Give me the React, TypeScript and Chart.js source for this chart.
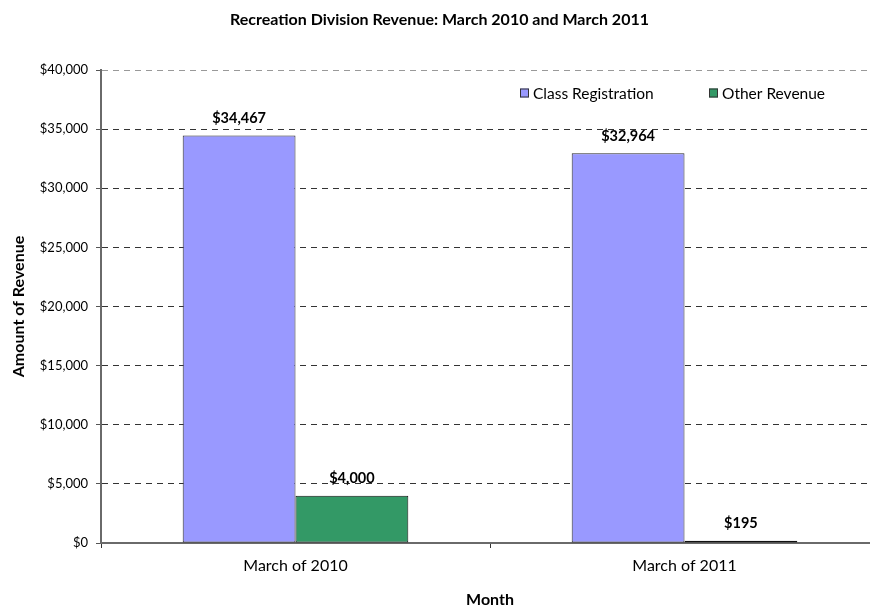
import React, { useEffect, useRef } from "react";
import { Chart, registerables } from "chart.js";

Chart.register(...registerables);

const categories = ["March of 2010", "March of 2011"];
const seriesNames = ["Class Registration", "Other Revenue"];
const classRegistration = [34467, 32964];
const otherRevenue = [4000, 195];
const yTicks = [0, 5000, 10000, 15000, 20000, 25000, 30000, 35000, 40000];

const FONT = "Lato, 'Open Sans', sans-serif";
const fmt = (v: number) => "$" + v.toLocaleString("en-US");

const labelPlugin = {
  id: "valueLabels",
  afterDatasetsDraw(chart: any) {
    const ctx = chart.ctx;
    ctx.save();
    ctx.font = `bold 14.5px ${FONT}`;
    ctx.fillStyle = "#000";
    ctx.textAlign = "center";
    ctx.textBaseline = "middle";
    chart.data.datasets.forEach((ds: any, di: number) => {
      const meta = chart.getDatasetMeta(di);
      meta.data.forEach((el: any, i: number) => {
        ctx.fillText(fmt(ds.data[i]), el.x, el.y - 17);
      });
    });
    ctx.restore();
  },
};

const legendPlugin = {
  id: "innerLegend",
  afterDraw(chart: any) {
    const ctx = chart.ctx;
    const { left } = chart.chartArea;
    const y = 93;
    const starts = [left + 419, left + 608];
    ctx.save();
    ctx.font = `15.5px ${FONT}`;
    ctx.textBaseline = "middle";
    ctx.textAlign = "left";
    chart.data.datasets.forEach((ds: any, i: number) => {
      const x = starts[i];
      ctx.fillStyle = ds.backgroundColor;
      ctx.fillRect(x, y - 4.5, 9, 9);
      ctx.strokeStyle = "#333";
      ctx.lineWidth = 1;
      ctx.strokeRect(x + 0.5, y - 4, 8, 8);
      ctx.fillStyle = "#000";
      ctx.fillText(ds.label, x + 13, y + 1);
    });
    ctx.restore();
  },
};

export default function App() {
  const ref = useRef<HTMLCanvasElement | null>(null);
  useEffect(() => {
    if (!ref.current) return;
    const chart = new Chart(ref.current, {
      type: "bar",
      data: {
        labels: categories,
        datasets: [
          {
            label: seriesNames[0],
            data: classRegistration,
            backgroundColor: "#9999FF",
            borderColor: "#2a2a2a",
            borderWidth: 1,
            borderSkipped: false,
            categoryPercentage: 0.58,
            barPercentage: 1,
          },
          {
            label: seriesNames[1],
            data: otherRevenue,
            backgroundColor: "#339966",
            borderColor: "#111",
            borderWidth: 1,
            borderSkipped: false,
            categoryPercentage: 0.58,
            barPercentage: 1,
          },
        ],
      },
      options: {
        animation: false,
        responsive: false,
        devicePixelRatio: 1,
        layout: { padding: { left: 0, right: 11, top: 0, bottom: 0 } },
        plugins: {
          legend: { display: false },
          tooltip: { enabled: false },
          title: {
            display: true,
            text: "Recreation Division Revenue: March 2010 and March 2011",
            color: "#000",
            font: { family: FONT, size: 16, weight: "bold" },
            padding: { top: 10, bottom: 40.8 },
          },
        },
        scales: {
          x: {
            afterFit(scale: any) {
              scale.height = 66;
            },
            grid: {
              offset: true,
              drawOnChartArea: false,
              drawTicks: true,
              tickLength: 5,
              tickColor: "#333",
            },
            border: { display: true, color: "#6a6a6a", width: 2 },
            ticks: {
              color: "#000",
              font: { family: FONT, size: 16 },
              padding: 8,
            },
            title: {
              display: true,
              text: "Month",
              color: "#000",
              font: { family: FONT, size: 16, weight: "bold" },
              padding: { top: 0, bottom: 0 },
            },
          },
          y: {
            min: 0,
            max: 40000,
            afterFit(scale: any) {
              scale.width = 101;
            },
            afterBuildTicks(scale: any) {
              scale.ticks = yTicks.map((v) => ({ value: v }));
            },
            grid: {
              color: (c: any) =>
                c.tick && c.tick.value === 40000 ? "#999" : "#333",
              lineWidth: 1,
              tickLength: 5,
              tickColor: "#555",
              tickBorderDash: [],
            },
            border: { display: true, color: "#6a6a6a", width: 2, dash: [6, 5] },
            ticks: {
              color: "#000",
              font: { family: FONT, size: 13 },
              padding: 8,
              callback: (v: any) => fmt(Number(v)),
            },
            title: {
              display: true,
              text: "Amount of Revenue",
              color: "#000",
              font: { family: FONT, size: 16, weight: "bold" },
              padding: { top: 9, bottom: 0 },
            },
          },
        },
      },
      plugins: [labelPlugin, legendPlugin],
    } as any);
    return () => chart.destroy();
  }, []);
  return (
    <div
      style={{
        position: "absolute",
        left: 0,
        top: 0,
        width: 870,
        height: 609,
        overflow: "hidden",
        background: "#fff",
      }}
    >
      <canvas ref={ref} width={890} height={609} style={{ display: "block" }} />
    </div>
  );
}
